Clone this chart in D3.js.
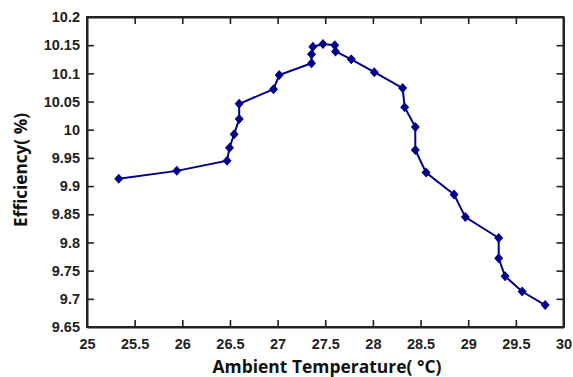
<!DOCTYPE html>
<html>
<head>
<meta charset="utf-8">
<script src="https://cdn.jsdelivr.net/npm/d3@7"></script>
<style>
html,body{margin:0;padding:0;background:#fff;}
svg{display:block;}
</style>
</head>
<body>
<svg id="chart" width="573" height="377"></svg>
<script>
const temperature = [25.333, 25.942, 26.47, 26.495, 26.544, 26.597, 26.597, 26.957, 27.017, 27.356, 27.356, 27.37, 27.476, 27.6, 27.608, 27.773, 28.015, 28.312, 28.333, 28.445, 28.445, 28.558, 28.852, 28.97, 29.32, 29.32, 29.387, 29.566, 29.808];
const efficiency  = [9.913, 9.927, 9.945, 9.968, 9.992, 10.019, 10.046, 10.072, 10.097, 10.118, 10.134, 10.147, 10.152, 10.15, 10.139, 10.125, 10.102, 10.074, 10.04, 10.005, 9.964, 9.924, 9.885, 9.845, 9.808, 9.772, 9.740, 9.713, 9.689];
const xTicks = [25, 25.5, 26, 26.5, 27, 27.5, 28, 28.5, 29, 29.5, 30];
const yTicks = [9.65, 9.7, 9.75, 9.8, 9.85, 9.9, 9.95, 10, 10.05, 10.1, 10.15, 10.2];
const xTitle = "Ambient Temperature( °C)";
const yTitle = "Efficiency( %)";

const svg = d3.select("#chart");
const L = 87, R = 563.5, T = 17, B = 327;
const x = d3.scaleLinear().domain([25, 30]).range([L, R]);
const y = d3.scaleLinear().domain([9.65, 10.2]).range([B, T]);
const fmt = d => String(+d.toFixed(2));
const tickFont = "'Liberation Sans', Arial, sans-serif";
const axisColor = "#222";

// bottom axis
const gx = svg.append("g").attr("transform", `translate(0,${B})`)
  .call(d3.axisBottom(x).tickValues(xTicks).tickFormat(fmt).tickSizeInner(-7).tickSizeOuter(0).tickPadding(12));
// top axis
const gxt = svg.append("g").attr("transform", `translate(0,${T})`)
  .call(d3.axisTop(x).tickValues(xTicks).tickFormat("").tickSizeInner(-7).tickSizeOuter(0));
// left axis
const gy = svg.append("g").attr("transform", `translate(${L},0)`)
  .call(d3.axisLeft(y).tickValues(yTicks).tickFormat(fmt).tickSizeInner(-7).tickSizeOuter(0).tickPadding(7));
// right axis
const gyr = svg.append("g").attr("transform", `translate(${R},0)`)
  .call(d3.axisRight(y).tickValues(yTicks).tickFormat("").tickSizeInner(-7).tickSizeOuter(0));

[gx, gxt, gy, gyr].forEach(g => {
  g.selectAll(".domain").attr("stroke", axisColor).attr("stroke-width", 2);
  g.selectAll(".tick line").attr("stroke", axisColor).attr("stroke-width", 1.6);
  g.selectAll(".tick text").attr("fill", "#222").attr("font-family", tickFont)
    .attr("font-weight", "bold").attr("font-size", "14.5px");
});
// hide tick marks exactly at the frame corners
gx.selectAll(".tick").filter(d => d === 25 || d === 30).select("line").remove();
gxt.selectAll(".tick").filter(d => d === 25 || d === 30).select("line").remove();
gy.selectAll(".tick").filter(d => d === 9.65 || d === 10.2).select("line").remove();
gyr.selectAll(".tick").filter(d => d === 9.65 || d === 10.2).select("line").remove();

// frame
svg.append("rect").attr("x", L).attr("y", T).attr("width", R - L).attr("height", B - T)
  .attr("fill", "none").attr("stroke", axisColor).attr("stroke-width", 2);

// data
const pts = temperature.map((t, i) => [t, efficiency[i]]);
const lineColor = "#00008B";
svg.append("path").datum(pts)
  .attr("fill", "none").attr("stroke", lineColor).attr("stroke-width", 2)
  .attr("d", d3.line().x(d => x(d[0])).y(d => y(d[1])));

svg.append("g").selectAll("path").data(pts).join("path")
  .attr("transform", d => `translate(${x(d[0])},${y(d[1])})`)
  .attr("d", "M0,-5L4.5,0L0,5L-4.5,0Z")
  .attr("fill", lineColor);

// titles
const titleFont = "'Open Sans', 'Noto Sans', sans-serif";
svg.append("text").text(xTitle)
  .attr("x", 327).attr("y", 373).attr("text-anchor", "middle")
  .attr("font-family", titleFont).attr("font-weight", "bold").attr("font-size", "17px")
  .attr("fill", "#111").attr("textLength", 229).attr("lengthAdjust", "spacingAndGlyphs");
svg.append("text").text(yTitle)
  .attr("transform", "translate(27,170) rotate(-90)").attr("text-anchor", "middle")
  .attr("font-family", titleFont).attr("font-weight", "bold").attr("font-size", "17px")
  .attr("fill", "#111").attr("textLength", 114).attr("lengthAdjust", "spacingAndGlyphs");
</script>
</body>
</html>
